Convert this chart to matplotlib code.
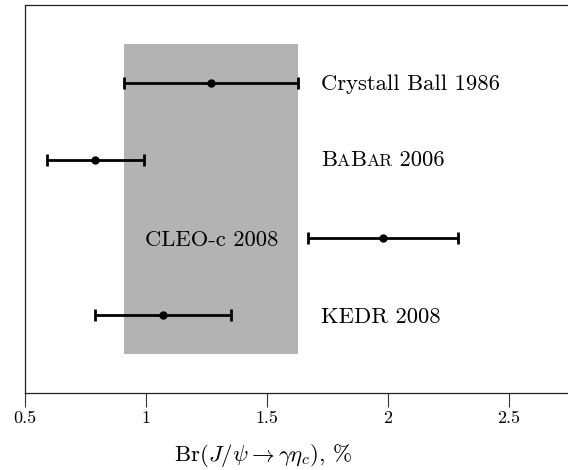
import matplotlib
matplotlib.use('Agg')
import matplotlib.pyplot as plt
from matplotlib.offsetbox import TextArea, HPacker, AnnotationBbox

plt.rcParams['font.family'] = 'serif'
plt.rcParams['font.serif'] = ['cmr10']
plt.rcParams['mathtext.fontset'] = 'cm'
plt.rcParams['axes.formatter.use_mathtext'] = True

# measurements of Br(J/psi -> gamma eta_c), %
experiments = ['Crystall Ball 1986', 'BaBar 2006', 'CLEO-c 2008', 'KEDR 2008']
values = [1.27, 0.79, 1.98, 1.07]
errors = [0.36, 0.20, 0.31, 0.28]
rows = [4, 3, 2, 1]

# world average band
band_lo, band_hi = 0.91, 1.63

fig = plt.figure(figsize=(5.68, 4.70), dpi=100)
ax = fig.add_axes([25 / 568, 77 / 470, 1 - 25 / 568, 388 / 470])

ax.axvspan(band_lo, band_hi, ymin=0.1, ymax=0.9, color='#b3b3b3', lw=0, zorder=0)
ax.errorbar(values, rows, xerr=errors, fmt='o', color='black', ms=5,
            elinewidth=2, capsize=4, capthick=2, zorder=3)

fs = 16.3
ax.text(1.723, 4, 'Crystall Ball 1986', fontsize=fs, va='center_baseline')
ax.text(0.996, 2, 'CLEO-c 2008', fontsize=fs, va='center_baseline')
ax.text(1.723, 1, 'KEDR 2008', fontsize=fs, va='center_baseline')

# BaBar written in small caps
big, small = fs, fs * 0.78
parts = [('B', big), ('A', small), ('B', big), ('AR', small), (' 2006', big)]
box = HPacker(children=[TextArea(s, textprops=dict(fontsize=f)) for s, f in parts],
              align='baseline', pad=0, sep=0)
ab = AnnotationBbox(box, (1.723, 3), xycoords='data', box_alignment=(0, 0.5),
                    frameon=False, pad=0)
ax.add_artist(ab)

ax.set_xlim(0.5, 2.745)
ax.set_ylim(0, 5)
ax.set_xticks([0.5, 1, 1.5, 2, 2.5])
ax.set_xticklabels(['0.5', '1', '1.5', '2', '2.5'])
ax.set_yticks([])
ax.tick_params(axis='x', direction='out', length=10, width=0.8, color='#333333',
               labelsize=13, pad=3)
ax.spines['right'].set_visible(False)
for s in ['left', 'top', 'bottom']:
    ax.spines[s].set_linewidth(0.9)
    ax.spines[s].set_color('#222222')
ax.set_xlabel(r'Br$(J/\psi \to \gamma\eta_c)$, %', fontsize=16.5)
ax.xaxis.set_label_coords(0.438, -0.127)

fig.savefig('out.png', dpi=100)
